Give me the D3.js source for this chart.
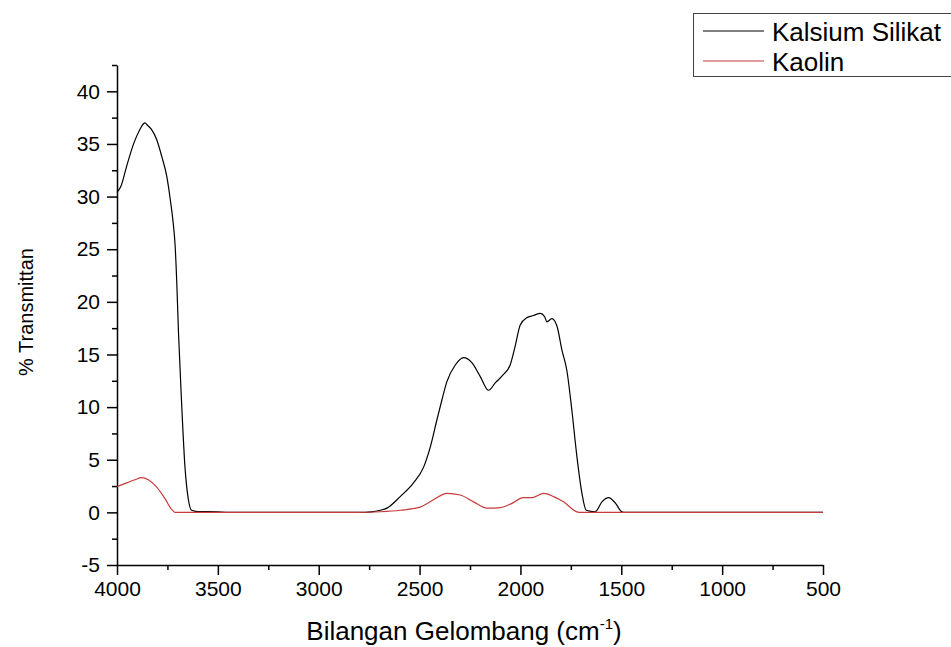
<!DOCTYPE html>
<html lang="id">
<head>
    <meta charset="UTF-8">
    <title>Spektrum FTIR</title>
    <style>
        html, body {
            margin: 0;
            padding: 0;
            background: #fff;
        }
        svg {
            display: block;
            font-family: "Liberation Sans", Arial, sans-serif;
        }
        .axis path, .axis line {
            stroke: #000;
            stroke-width: 1.5px;
        }
        .axis text {
            font-size: 21px;
            fill: #000;
        }
    </style>
</head>
<body>
<div id="chart"></div>

<script src="https://d3js.org/d3.v7.min.js"></script>
<script>
    // bilangan gelombang (cm-1) dan % transmitan
    const kalsiumWn = [4000, 3980, 3952, 3916, 3886, 3870, 3861, 3850, 3830, 3803, 3778, 3753, 3735, 3722,
        3712, 3704, 3695, 3680, 3663, 3646, 3630, 3600, 3500, 3450, 2800, 2740, 2695, 2662, 2596, 2530, 2480,
        2447, 2414, 2389, 2365, 2323, 2282, 2240, 2199, 2158, 2125, 2084, 2051, 2026, 2001, 1968,
        1935, 1902, 1880, 1869, 1844, 1819, 1794, 1770, 1745, 1720, 1695, 1674, 1629, 1596, 1563,
        1530, 1497, 1480, 500]
    const kalsiumT = [30.4, 31.0, 32.9, 35.1, 36.4, 36.9, 37.0, 36.8, 36.4, 35.4, 33.8, 31.9, 29.6, 27.6,
        25.4, 22.0, 17.0, 10.5, 4.3, 1.2, 0.2, 0.08, 0.05, 0.0, 0.0, 0.05, 0.2, 0.4, 1.5, 2.8, 4.3,
        6.2, 8.8, 10.7, 12.4, 14.0, 14.7, 14.2, 12.9, 11.6, 12.3, 13.1, 14.0, 15.8, 17.8, 18.5,
        18.7, 18.9, 18.6, 18.1, 18.4, 17.7, 15.4, 13.5, 9.7, 5.3, 1.8, 0.2, 0.06, 1.0, 1.4,
        0.9, 0.05, 0, 0]

    const kaolinWn = [4000, 3952, 3911, 3878, 3845, 3803, 3762, 3730, 3712, 2800, 2695, 2596, 2497, 2431,
        2365, 2299, 2232, 2166, 2100, 2042, 1985, 1943, 1885, 1836, 1786, 1720, 1700, 500]
    const kaolinT = [2.45, 2.8, 3.1, 3.3, 3.1, 2.4, 1.3, 0.3, 0.0, 0.0, 0.06, 0.2, 0.5, 1.2,
        1.8, 1.65, 1.0, 0.4, 0.45, 0.85, 1.4, 1.4, 1.8, 1.5, 1.0, 0.05, 0, 0]

    const seriesNames = ["Kalsium Silikat", "Kaolin"]
    const seriesColors = ["#000000", "#c83a3a"]

    const xTicks = [4000, 3500, 3000, 2500, 2000, 1500, 1000, 500]
    const xMinorTicks = [3750, 3250, 2750, 2250, 1750, 1250, 750]
    const yTicks = [-5, 0, 5, 10, 15, 20, 25, 30, 35, 40]
    const yMinorTicks = [-2.5, 2.5, 7.5, 12.5, 17.5, 22.5, 27.5, 32.5, 37.5, 42.5]

    const xTitle = "Bilangan Gelombang (cm"
    const yTitle = "% Transmittan"

    const [width, height] = [951, 647]

    const svg = d3.select('#chart').append('svg')
        .attr('width', width)
        .attr('height', height)

    const x = d3.scaleLinear().domain([4000, 500]).range([117, 823])
    const y = d3.scaleLinear().domain([-5, 42.5]).range([565, 65])
    const fmt = d => String(d)

    // sumbu x
    svg.append('g')
        .attr('class', 'axis')
        .attr('transform', `translate(0,${y(-5)})`)
        .call(d3.axisBottom(x).tickValues(xTicks).tickFormat(fmt).tickSize(10).tickSizeOuter(0).tickPadding(6))

    svg.append('g')
        .attr('class', 'axis')
        .attr('transform', `translate(0,${y(-5)})`)
        .call(d3.axisBottom(x).tickValues(xMinorTicks).tickSize(5).tickSizeOuter(0).tickFormat(''))
        .select('.domain').remove()

    // sumbu y
    svg.append('g')
        .attr('class', 'axis')
        .attr('transform', `translate(${x(4000)},0)`)
        .call(d3.axisLeft(y).tickValues(yTicks).tickFormat(fmt).tickSize(10).tickSizeOuter(0).tickPadding(7))

    svg.append('g')
        .attr('class', 'axis')
        .attr('transform', `translate(${x(4000)},0)`)
        .call(d3.axisLeft(y).tickValues(yMinorTicks).tickSize(5).tickSizeOuter(0).tickFormat(''))
        .select('.domain').remove()

    // judul sumbu
    const xt = svg.append('text')
        .attr('x', (x.range()[0] + x.range()[1]) / 2 - 6)
        .attr('y', 640)
        .attr('text-anchor', 'middle')
        .style('font-size', '26px')
        .text(xTitle)
    xt.append('tspan')
        .attr('dy', -11)
        .style('font-size', '15px')
        .text('-1')
    xt.append('tspan')
        .attr('dy', 11)
        .text(')')

    svg.append('text')
        .attr('transform', 'translate(33,312) rotate(-90)')
        .attr('text-anchor', 'middle')
        .style('font-size', '20px')
        .text(yTitle)

    // garis spektrum
    const line = d3.line()
        .x(d => x(d[0]))
        .y(d => y(d[1]))
        .curve(d3.curveMonotoneX)

    const series = [
        d3.zip(kalsiumWn, kalsiumT),
        d3.zip(kaolinWn, kaolinT)
    ]

    series.forEach((s, i) => {
        svg.append('path')
            .datum(s)
            .attr('fill', 'none')
            .attr('stroke', seriesColors[i])
            .attr('stroke-width', 1.2)
            .attr('d', line)
    })

    // legenda
    const legend = svg.append('g').attr('transform', 'translate(693,13)')
    legend.append('rect')
        .attr('x', 0.5)
        .attr('y', 0.5)
        .attr('width', 300)
        .attr('height', 63)
        .attr('fill', '#fff')
        .attr('stroke', '#444')
        .attr('stroke-width', 1)

    seriesNames.forEach((name, i) => {
        const ly = 18 + i * 30
        legend.append('line')
            .attr('x1', 10)
            .attr('x2', 71)
            .attr('y1', ly)
            .attr('y2', ly)
            .attr('stroke', seriesColors[i])
            .attr('stroke-width', 1.2)
        legend.append('text')
            .attr('x', 79)
            .attr('y', ly + 10)
            .style('font-size', '26px')
            .text(name)
    })
</script>
</body>
</html>
